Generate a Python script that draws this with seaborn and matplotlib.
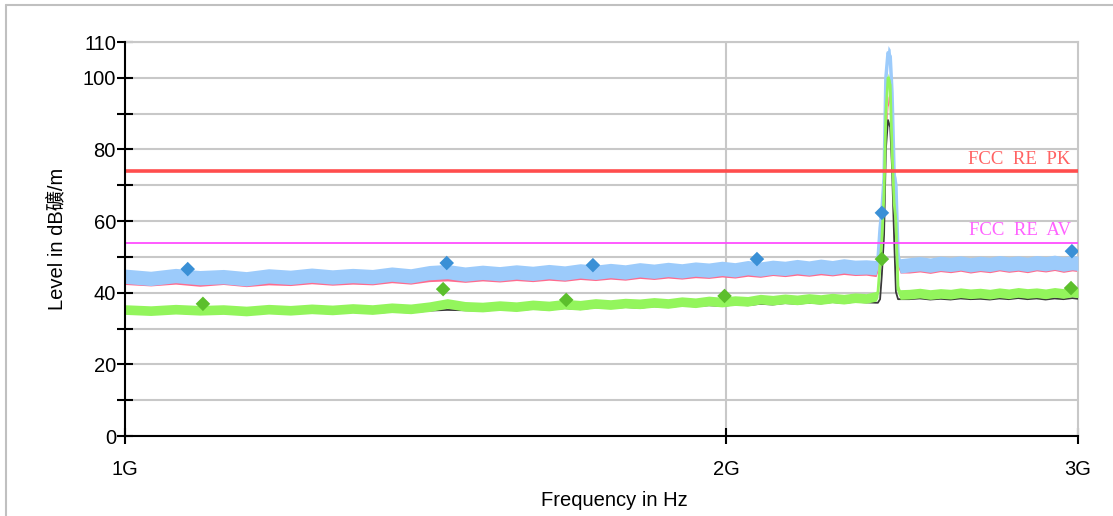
import numpy as np
import pandas as pd
import seaborn as sns
import matplotlib
matplotlib.use("Agg")
import matplotlib.pyplot as plt
from matplotlib.ticker import FixedLocator, NullLocator, FixedFormatter
from matplotlib.lines import Line2D

# ---------------- data (frequency in GHz, level in dBuV/m) ----------------
freq_ghz = [
    1.00, 1.03, 1.06, 1.09, 1.12, 1.15, 1.18, 1.21, 1.24, 1.27, 1.30, 1.33, 1.36, 1.39, 1.42, 1.45,
    1.48, 1.51, 1.54, 1.57, 1.60, 1.63, 1.66, 1.69, 1.72, 1.75, 1.78, 1.81, 1.84, 1.87, 1.90, 1.93,
    1.96, 1.99, 2.02, 2.05, 2.08, 2.11, 2.14, 2.17, 2.20, 2.23, 2.26, 2.29, 2.32, 2.35,
    2.377, 2.382, 2.388, 2.393, 2.399, 2.404, 2.410, 2.416, 2.421, 2.427, 2.432, 2.438, 2.444,
    2.47, 2.50, 2.53, 2.56, 2.59, 2.62, 2.65, 2.68, 2.71, 2.74, 2.77, 2.80, 2.83, 2.86, 2.89, 2.92,
    2.95, 2.98, 3.00,
]

peak_h = [
    44.6, 44.0, 44.8, 44.2, 44.5, 43.9, 44.7, 44.3, 44.9, 44.4, 44.8, 44.5, 45.2, 44.7, 45.6, 45.9,
    45.2, 45.7, 45.3, 45.8, 45.4, 45.9, 45.5, 46.1, 45.7, 46.2, 45.8, 46.4, 46.0, 46.5, 46.1, 46.6,
    46.3, 46.8, 46.4, 47.0, 46.6, 47.1, 46.8, 47.3, 46.9, 47.4, 47.0, 47.5, 47.1, 47.2,
    47.0, 49.0, 58.0, 63.0, 72.0, 100.0, 107.0, 106.0, 96.0, 73.0, 70.0, 50.0, 47.5,
    47.8, 48.1, 47.7, 48.2, 47.9, 48.3, 47.8, 48.2, 47.9, 48.4, 48.0, 48.3, 47.9, 48.4, 48.1, 48.5,
    48.0, 48.4, 48.2,
]

peak_v = [
    43.3, 42.9, 43.4, 42.8, 43.3, 42.7, 43.2, 43.0, 43.5, 43.1, 43.4, 43.2, 43.8, 43.4, 44.1, 44.3,
    43.9, 44.3, 44.0, 44.4, 44.1, 44.5, 44.2, 44.7, 44.4, 44.8, 44.5, 45.0, 44.7, 45.1, 44.8, 45.2,
    45.0, 45.4, 45.1, 45.6, 45.3, 45.8, 45.5, 45.9, 45.6, 46.0, 45.7, 46.1, 45.8, 45.9,
    45.5, 47.0, 55.0, 60.0, 66.0, 85.0, 93.0, 95.0, 88.0, 62.0, 58.0, 48.0, 46.5,
    46.5, 46.8, 46.4, 46.9, 46.6, 47.0, 46.5, 46.9, 46.6, 47.1, 46.7, 47.0, 46.6, 47.1, 46.8, 47.2,
    46.7, 47.1, 46.9,
]

avg_h = [
    35.3, 35.0, 35.4, 35.1, 35.3, 34.9, 35.4, 35.1, 35.5, 35.2, 35.6, 35.3, 35.8, 35.5, 36.1, 37.0,
    36.2, 36.0, 36.4, 36.1, 36.6, 36.3, 36.8, 36.5, 37.0, 36.7, 37.1, 36.9, 37.3, 37.0, 37.5, 37.2,
    37.7, 37.4, 37.8, 37.6, 38.2, 37.9, 38.3, 38.0, 38.4, 38.1, 38.5, 38.2, 38.6, 38.4,
    39.0, 40.0, 48.0, 55.0, 68.0, 90.0, 100.0, 98.0, 80.0, 65.0, 60.0, 41.0, 39.5,
    39.6, 39.9, 39.5, 39.8, 39.6, 40.0, 39.7, 39.9, 39.6, 40.0, 39.7, 40.1, 39.8, 40.0, 39.7, 40.1,
    39.8, 40.2, 40.0,
]

avg_v = [
    34.1, 33.9, 34.2, 33.9, 34.1, 33.8, 34.2, 34.0, 34.3, 34.0, 34.4, 34.1, 34.5, 34.3, 34.8, 35.0,
    34.9, 34.8, 35.1, 34.9, 35.3, 35.1, 35.5, 35.2, 35.7, 35.5, 35.8, 35.6, 36.0, 35.8, 36.2, 36.0,
    36.3, 36.1, 36.5, 36.3, 36.7, 36.5, 36.9, 36.7, 37.0, 36.8, 37.2, 36.9, 37.3, 37.1,
    37.0, 37.0, 38.0, 45.0, 56.0, 80.0, 88.0, 86.0, 75.0, 55.0, 40.0, 38.0, 38.0,
    38.0, 38.2, 37.9, 38.1, 37.9, 38.2, 38.0, 38.1, 37.9, 38.2, 38.0, 38.3, 38.0, 38.2, 37.9, 38.2,
    38.0, 38.3, 38.1,
]

marker_pk_freq = [1.075, 1.449, 1.715, 2.072, 2.393, 2.979]
marker_pk_level = [46.6, 48.3, 47.7, 49.4, 62.3, 51.6]
marker_av_freq = [1.094, 1.443, 1.663, 1.996, 2.393, 2.976]
marker_av_level = [36.9, 41.0, 38.0, 39.1, 49.4, 41.3]

limit_names = ["FCC RE PK", "FCC RE AV"]
limit_levels = [74.0, 54.0]

x_ticks = [1.0, 2.0, 3.0]
x_tick_labels = ["1G", "2G", "3G"]
y_major = [0, 20, 40, 60, 80, 100, 110]
y_all = [0, 10, 20, 30, 40, 50, 60, 70, 80, 90, 100, 110]

# ---------------- style ----------------
sns.set_theme(style="white")
plt.rcParams["font.family"] = ["Liberation Sans", "Noto Sans CJK SC", "DejaVu Sans"]

fig = plt.figure(figsize=(11.13, 5.16), dpi=100)
ax = fig.add_axes([125 / 1113, 1 - 436 / 516, (1078 - 125) / 1113, (436 - 42) / 516])

df = pd.DataFrame({"f": freq_ghz, "pk_h": peak_h, "pk_v": peak_v, "av_h": avg_h, "av_v": avg_v})
f = df["f"].to_numpy()

# grid
for y in y_all:
    ax.axhline(y, color="#c8c8c8", lw=1.5, zorder=0)
ax.axvline(2.0, color="#c8c8c8", lw=1.5, zorder=0)

# peak traces (bands)
pv = df["pk_v"].to_numpy()
ph = df["pk_h"].to_numpy()
ax.fill_between(f, pv - 1.0, pv + 1.6, color="#ff6b8e", lw=0, zorder=2)
ax.fill_between(f, ph - 2.0, ph + 2.0, color="#9ccbfb", lw=0, zorder=3)
sns.lineplot(x=f, y=ph, ax=ax, color="#9ccbfb", lw=2.5, zorder=3, sort=False)

# average traces
av = df["av_v"].to_numpy()
ah = df["av_h"].to_numpy()
sns.lineplot(x=f, y=av + 0.2, ax=ax, color="#3a3a3a", lw=1.3, zorder=4, sort=False)
ax.fill_between(f, ah - 1.35, ah + 1.35, color="#93f55c", lw=0, zorder=5)
sns.lineplot(x=f, y=ah, ax=ax, color="#93f55c", lw=2.0, zorder=5, sort=False)

# markers
sns.scatterplot(x=marker_pk_freq, y=marker_pk_level, ax=ax, marker="D", s=55,
                color="#3a90d6", edgecolor="none", zorder=7)
sns.scatterplot(x=marker_av_freq, y=marker_av_level, ax=ax, marker="D", s=55,
                color="#5cbf2c", edgecolor="none", zorder=7)

# limit lines
ax.axhline(limit_levels[0], color="#ff4d4d", lw=2.6, zorder=6)
ax.axhline(limit_levels[1], color="#ff4dff", lw=1.3, zorder=6)
for name, lvl, col, off in zip(limit_names, limit_levels, ["#ff6262", "#ff62ff"], [0.7, 1.0]):
    ax.text(2.975, lvl + off, name.replace(" ", "  "), ha="right", va="bottom",
            color=col, fontsize=13.5, family="Liberation Serif", zorder=8)

# axes
ax.set_xscale("log")
ax.set_xlim(1.0, 3.0)
ax.set_ylim(0, 110)
ax.xaxis.set_major_locator(FixedLocator(x_ticks))
ax.xaxis.set_major_formatter(FixedFormatter(x_tick_labels))
ax.xaxis.set_minor_locator(NullLocator())
ax.yaxis.set_major_locator(FixedLocator(y_all))
ax.yaxis.set_major_formatter(FixedFormatter([str(v) if v in y_major else "" for v in y_all]))
ax.tick_params(axis="y", direction="inout", length=11, width=1.5, color="black",
               labelsize=14.5, pad=1, left=True)
ax.tick_params(axis="x", direction="inout", length=11, width=1.5, color="black",
               labelsize=14.5, pad=12, bottom=True)
ax.tick_params(axis="both", labelcolor="black")
for side in ["left", "bottom"]:
    ax.spines[side].set_color("black")
    ax.spines[side].set_linewidth(1.5)
    ax.spines[side].set_zorder(9)
for side in ["top", "right"]:
    ax.spines[side].set_color("#c8c8c8")
    ax.spines[side].set_linewidth(1.5)

ax.set_xlabel("Frequency in Hz", fontsize=14.5, color="black")
ax.set_ylabel("Level in dB礦/m", fontsize=14.5, color="black")
ax.xaxis.set_label_coords(0.514, -0.14)
ax.yaxis.set_label_coords(-0.062, 0.5)

# outer frame lines
fig.add_artist(Line2D([6 / 1113, 1.0], [1 - 5 / 516, 1 - 5 / 516], transform=fig.transFigure,
                      color="#c0c0c0", lw=1.5))
fig.add_artist(Line2D([6 / 1113, 6 / 1113], [0, 1 - 5 / 516], transform=fig.transFigure,
                      color="#c0c0c0", lw=1.5))

fig.savefig("out.png", dpi=100)
